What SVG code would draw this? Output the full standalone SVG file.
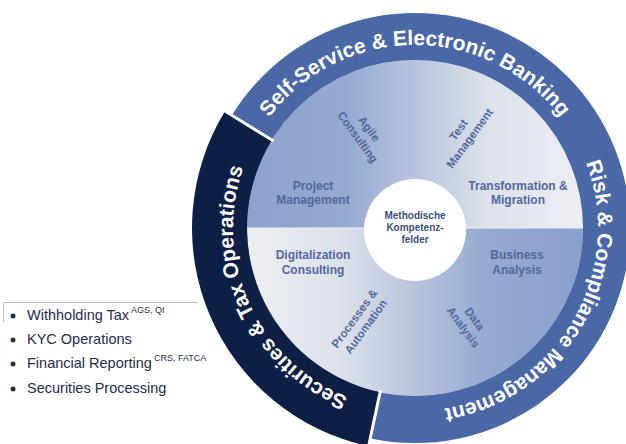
<svg xmlns="http://www.w3.org/2000/svg" width="626" height="444" viewBox="0 0 626 444">
<style>
.ring{font-family:"Liberation Sans",Arial,sans-serif;font-weight:bold;font-size:21px;fill:#ffffff}
.lbl{font-family:"Liberation Sans",Arial,sans-serif;font-weight:bold;font-size:12px;fill:#52689e;text-anchor:middle}
.rot{font-size:11.5px}
.ctr{font-family:"Liberation Sans",Arial,sans-serif;font-weight:bold;font-size:10px;fill:#3c4f7c;text-anchor:middle}
.lst{font-family:"Liberation Sans",Arial,sans-serif;font-size:14.5px;fill:#1f2d4f}
.sup{font-size:9px}
.sep{stroke:#ffffff;stroke-width:3}
</style>
<defs>
<linearGradient id="gUp" gradientUnits="userSpaceOnUse" x1="247" y1="0" x2="583" y2="0">
<stop offset="0" stop-color="#8ca2cd"/>
<stop offset="0.3" stop-color="#96aad1"/>
<stop offset="0.72" stop-color="#dde2eb"/>
<stop offset="1" stop-color="#eceef3"/>
</linearGradient>
<linearGradient id="gLo" gradientUnits="userSpaceOnUse" x1="247" y1="0" x2="583" y2="0">
<stop offset="0" stop-color="#eceef3"/>
<stop offset="0.28" stop-color="#dde1ea"/>
<stop offset="0.7" stop-color="#96aad1"/>
<stop offset="1" stop-color="#8aa0cc"/>
</linearGradient>
<path id="pTop" d="M 232 228 A 183 183 0 0 1 598 228"/>
<path id="pRight" d="M 477.6 56 A 183 183 0 1 1 297.4 368.2"/>
<path id="pLeft" d="M 518.1 378 A 182 182 0 1 1 369.4 51.8"/>
</defs>
<rect width="626" height="444" fill="#ffffff"/>

<g id="inner-disk">
<path d="M 247 228 A 168 168 0 0 1 583 228 Z" fill="url(#gUp)"/>
<path d="M 583 228 A 168 168 0 0 1 247 228 Z" fill="url(#gLo)"/>
<line x1="247" y1="228" x2="583" y2="228" stroke="#eef0f5" stroke-width="1"/>
</g>

<g id="ring-blue">
<circle cx="415" cy="228" r="191.5" fill="none" stroke="#4a68a6" stroke-width="47"/>
<text class="ring"><textPath href="#pTop" startOffset="50%" text-anchor="middle">Self-Service &amp; Electronic Banking</textPath></text>
<text class="ring"><textPath href="#pRight" startOffset="50%" text-anchor="middle">Risk &amp; Compliance Management</textPath></text>
</g>

<g id="ring-dark">
<path d="M 368.6 446.1 A 223 223 0 0 1 225.1 111.1 L 271.9 140 A 168 168 0 0 0 380.1 392.3 Z" fill="#0d1f44"/>
<text class="ring"><textPath href="#pLeft" startOffset="50%" text-anchor="middle">Securities &amp; Tax Operations</textPath></text>
</g>

<g id="connectors">
<line class="sep" x1="380.5" y1="390.3" x2="367.8" y2="449.9"/>
<line class="sep" x1="273.6" y1="141" x2="222.5" y2="109.5"/>
</g>

<g id="center">
<circle cx="415" cy="230" r="51" fill="#ffffff"/>
<text class="ctr"><tspan x="415" y="219">Methodische</tspan><tspan x="415" y="231">Kompetenz-</tspan><tspan x="415" y="243">felder</tspan></text>
</g>

<g id="project-management"><text class="lbl"><tspan x="313" y="189.5">Project</tspan><tspan x="313" y="204">Management</tspan></text></g>
<g id="transformation-migration"><text class="lbl"><tspan x="518" y="189.5">Transformation &amp;</tspan><tspan x="518" y="204">Migration</tspan></text></g>
<g id="digitalization-consulting"><text class="lbl"><tspan x="313" y="259">Digitalization</tspan><tspan x="313" y="273.5">Consulting</tspan></text></g>
<g id="business-analysis"><text class="lbl"><tspan x="517" y="259">Business</tspan><tspan x="517" y="273.5">Analysis</tspan></text></g>

<g id="agile-consulting" transform="translate(363.5 133) rotate(54)"><text class="lbl rot"><tspan x="0" y="-3">Agile</tspan><tspan x="0" y="11">Consulting</tspan></text></g>
<g id="test-management" transform="translate(464 134) rotate(-54)"><text class="lbl rot"><tspan x="0" y="-3">Test</tspan><tspan x="0" y="11">Management</tspan></text></g>
<g id="processes-automation" transform="translate(360 322.5) rotate(-54)"><text class="lbl rot"><tspan x="0" y="-3">Processes &amp;</tspan><tspan x="0" y="11">Automation</tspan></text></g>
<g id="data-analysis" transform="translate(469 323) rotate(54)"><text class="lbl rot"><tspan x="0" y="-3">Data</tspan><tspan x="0" y="11">Analysis</tspan></text></g>

<g id="list">
<path d="M 3.5 322 L 3.5 302.5 L 198 302.5" fill="none" stroke="#b9bcc2" stroke-width="1"/>
<circle cx="13" cy="316" r="2.5" fill="#1f2d4f"/>
<circle cx="13" cy="340" r="2.5" fill="#1f2d4f"/>
<circle cx="13" cy="364" r="2.5" fill="#1f2d4f"/>
<circle cx="13" cy="389" r="2.5" fill="#1f2d4f"/>
<text class="lst" x="27" y="320">Withholding Tax<tspan class="sup" dx="2" dy="-7">AGS, QI</tspan></text>
<text class="lst" x="27" y="344">KYC Operations</text>
<text class="lst" x="27" y="368">Financial Reporting<tspan class="sup" dx="2" dy="-7">CRS, FATCA</tspan></text>
<text class="lst" x="27" y="393">Securities Processing</text>
</g>
</svg>
